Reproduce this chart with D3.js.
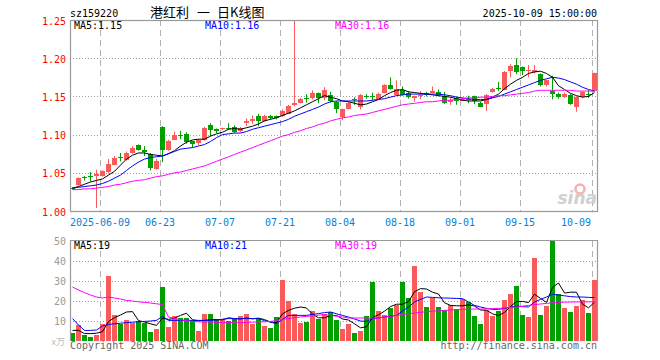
<!DOCTYPE html>
<html><head><meta charset="utf-8">
<script src="https://cdn.jsdelivr.net/npm/d3@7"></script>
<style>body{margin:0;background:#fff;}svg{display:block;}</style>
</head><body><svg id="c" width="660" height="360"></svg>
<script>
const dates = ['2025-05-30',
'2025-06-03','2025-06-04','2025-06-05','2025-06-06',
'2025-06-09','2025-06-10','2025-06-11','2025-06-12','2025-06-13',
'2025-06-16','2025-06-17','2025-06-18','2025-06-19','2025-06-20',
'2025-06-23','2025-06-24','2025-06-25','2025-06-26','2025-06-27','2025-06-30',
'2025-07-01','2025-07-02','2025-07-03','2025-07-04',
'2025-07-07','2025-07-08','2025-07-09','2025-07-10','2025-07-11',
'2025-07-14','2025-07-15','2025-07-16','2025-07-17','2025-07-18',
'2025-07-21','2025-07-22','2025-07-23','2025-07-24','2025-07-25',
'2025-07-28','2025-07-29','2025-07-30','2025-07-31','2025-08-01',
'2025-08-04','2025-08-05','2025-08-06','2025-08-07','2025-08-08',
'2025-08-11','2025-08-12','2025-08-13','2025-08-14','2025-08-15',
'2025-08-18','2025-08-19','2025-08-20','2025-08-21','2025-08-22',
'2025-08-25','2025-08-26','2025-08-27','2025-08-28','2025-08-29',
'2025-09-01','2025-09-02','2025-09-03','2025-09-04','2025-09-05',
'2025-09-08','2025-09-09','2025-09-10','2025-09-11','2025-09-12',
'2025-09-15','2025-09-16','2025-09-17','2025-09-18','2025-09-19',
'2025-09-22','2025-09-23','2025-09-24','2025-09-25','2025-09-26',
'2025-09-29','2025-09-30','2025-10-09'];

const openP = [1.030,1.034,1.044,1.046,1.045,1.046,1.050,1.061,1.071,1.067,
1.076,1.086,1.080,1.074,1.056,1.110,1.080,1.094,1.100,1.101,
1.091,1.089,1.093,1.112,1.107,1.107,1.109,1.110,1.104,1.116,
1.118,1.124,1.118,1.125,1.124,1.124,1.128,1.138,1.142,1.148,
1.147,1.154,1.147,1.152,1.143,1.122,1.134,1.146,1.136,1.151,
1.150,1.147,1.155,1.165,1.152,1.159,1.155,1.147,1.151,1.154,
1.155,1.156,1.151,1.143,1.148,1.145,1.147,1.150,1.142,1.140,
1.156,1.161,1.159,1.183,1.191,1.188,1.184,1.183,1.179,1.164,
1.157,1.153,1.149,1.152,1.136,1.149,1.153,1.157];
const highP = [1.031,1.044,1.046,1.051,1.054,1.053,1.068,1.072,1.076,1.078,
1.085,1.087,1.085,1.076,1.068,1.111,1.093,1.104,1.105,1.103,
1.092,1.094,1.110,1.115,1.108,1.109,1.115,1.112,1.110,1.121,
1.125,1.127,1.126,1.126,1.125,1.133,1.139,1.260,1.148,1.153,
1.158,1.155,1.162,1.156,1.144,1.134,1.143,1.149,1.153,1.153,
1.155,1.155,1.166,1.175,1.171,1.163,1.157,1.151,1.157,1.156,
1.163,1.159,1.156,1.149,1.150,1.148,1.151,1.151,1.143,1.153,
1.161,1.169,1.183,1.192,1.200,1.189,1.191,1.191,1.180,1.172,
1.177,1.155,1.155,1.153,1.150,1.157,1.158,1.181];
const lowP = [1.028,1.033,1.040,1.039,1.004,1.045,1.049,1.060,1.065,1.066,
1.075,1.079,1.072,1.053,1.054,1.064,1.079,1.093,1.094,1.088,
1.083,1.086,1.092,1.098,1.102,1.106,1.106,1.102,1.103,1.111,
1.114,1.111,1.117,1.120,1.120,1.123,1.127,1.137,1.141,1.142,
1.146,1.141,1.145,1.142,1.128,1.119,1.133,1.139,1.133,1.147,
1.145,1.146,1.154,1.159,1.151,1.151,1.147,1.143,1.146,1.150,
1.154,1.150,1.140,1.139,1.139,1.144,1.141,1.140,1.136,1.131,
1.155,1.157,1.158,1.175,1.179,1.178,1.175,1.180,1.163,1.163,
1.146,1.147,1.148,1.139,1.130,1.148,1.148,1.156];
const closeP = [1.029,1.043,1.043,1.045,1.048,1.052,1.061,1.070,1.070,1.076,
1.083,1.080,1.077,1.056,1.066,1.080,1.092,1.100,1.099,1.090,
1.087,1.093,1.109,1.106,1.104,1.108,1.108,1.104,1.108,1.118,
1.120,1.118,1.125,1.122,1.122,1.131,1.138,1.141,1.147,1.147,
1.154,1.147,1.158,1.144,1.134,1.133,1.142,1.145,1.152,1.150,
1.149,1.153,1.165,1.160,1.160,1.153,1.150,1.150,1.152,1.151,
1.157,1.152,1.142,1.145,1.144,1.147,1.146,1.143,1.137,1.152,
1.160,1.160,1.182,1.190,1.182,1.183,1.185,1.185,1.165,1.171,
1.153,1.149,1.153,1.140,1.149,1.156,1.152,1.180];

const ma5 = [1.030,1.032,1.035,1.038,1.040,1.042,1.047,1.052,1.060,1.068,
1.073,1.076,1.076,1.074,1.073,1.072,1.075,1.079,1.085,1.090,
1.093,1.094,1.094,1.098,1.101,1.103,1.107,1.108,1.107,1.109,
1.111,1.114,1.118,1.120,1.122,1.125,1.128,1.131,1.135,1.139,
1.143,1.147,1.151,1.149,1.147,1.144,1.143,1.141,1.139,1.140,
1.143,1.146,1.151,1.155,1.158,1.159,1.156,1.155,1.154,1.153,
1.152,1.151,1.150,1.149,1.147,1.145,1.144,1.144,1.144,1.146,
1.149,1.153,1.160,1.166,1.171,1.175,1.180,1.182,1.183,1.180,
1.175,1.164,1.159,1.154,1.151,1.149,1.150,1.155];
const ma10 = [1.030,1.031,1.032,1.033,1.034,1.036,1.039,1.043,1.047,1.053,
1.059,1.064,1.068,1.070,1.071,1.072,1.075,1.078,1.081,1.082,
1.083,1.085,1.087,1.091,1.096,1.100,1.101,1.102,1.102,1.104,
1.107,1.109,1.111,1.113,1.115,1.117,1.120,1.124,1.127,1.130,
1.133,1.136,1.140,1.143,1.144,1.144,1.144,1.144,1.144,1.144,
1.145,1.146,1.147,1.149,1.151,1.152,1.153,1.153,1.153,1.153,
1.153,1.153,1.152,1.151,1.149,1.148,1.147,1.146,1.146,1.146,
1.148,1.150,1.153,1.156,1.159,1.162,1.165,1.168,1.171,1.173,
1.175,1.174,1.172,1.169,1.166,1.162,1.159,1.157];
const ma30 = [1.028,1.028,1.029,1.029,1.030,1.031,1.032,1.034,1.035,1.037,
1.039,1.040,1.041,1.043,1.045,1.046,1.048,1.050,1.051,1.053,
1.055,1.057,1.059,1.062,1.065,1.068,1.071,1.074,1.077,1.080,
1.083,1.086,1.089,1.092,1.095,1.098,1.100,1.103,1.105,1.108,
1.110,1.113,1.115,1.118,1.120,1.122,1.123,1.125,1.126,1.127,
1.129,1.131,1.133,1.135,1.137,1.139,1.140,1.141,1.142,1.143,
1.143,1.144,1.145,1.145,1.146,1.147,1.148,1.148,1.149,1.149,
1.150,1.151,1.151,1.152,1.153,1.154,1.155,1.157,1.158,1.158,
1.158,1.158,1.158,1.158,1.157,1.157,1.157,1.157];

const volume = [4.0,8.2,2.8,2.0,2.8,8.3,32.5,12.8,8.7,10.3,
9.2,10.0,9.2,4.5,6.2,27.0,7.0,12.5,11.5,11.5,
10.3,5.0,13.3,13.3,11.2,10.3,10.0,11.2,12.5,13.3,
8.3,11.7,7.5,6.5,12.0,30.3,20.0,13.3,9.2,9.5,
14.8,11.2,13.3,14.6,10.3,5.8,8.3,4.0,4.8,12.5,
29.5,14.8,12.8,16.5,18.2,29.5,21.5,37.5,24.5,17.0,
21.5,17.0,15.3,18.2,16.2,21.2,19.5,12.5,8.3,15.3,
12.5,15.0,20.3,23.3,27.5,12.8,12.0,41.5,12.8,17.5,
50.0,23.3,16.5,14.5,17.5,20.3,14.2,30.3];
const vma5 = [5.3,5.3,3.7,3.7,3.9,4.7,9.7,11.7,13.0,14.5,
14.7,10.2,9.5,8.6,7.8,11.4,10.8,11.4,12.8,13.9,
10.6,10.2,10.3,10.7,10.6,10.6,11.6,11.2,11.0,11.5,
11.1,11.4,10.7,9.5,9.2,13.6,15.3,16.4,17.0,16.5,
13.4,11.6,11.6,12.7,12.8,11.0,10.5,8.6,6.6,7.1,
11.8,13.1,14.9,17.2,18.4,18.4,19.7,24.6,26.2,26.0,
24.4,23.5,19.1,17.8,17.6,17.6,18.1,17.5,15.5,15.4,
13.6,12.7,14.3,17.3,19.7,19.8,19.2,23.4,21.3,19.3,
26.8,29.0,24.0,24.4,24.4,18.4,16.6,19.4];
const vma10 = [11.2,8.0,5.3,5.3,5.5,7.5,8.3,8.6,8.9,9.2,
9.4,9.6,9.8,10.0,10.3,12.3,10.3,10.3,10.3,10.3,
10.3,10.3,10.3,10.3,10.6,10.9,11.2,11.2,11.2,11.2,
11.2,11.2,10.2,9.4,8.7,10.8,12.8,12.8,12.8,12.8,
13.3,13.7,14.2,14.5,13.6,12.8,12.0,11.0,10.0,9.8,
11.2,11.6,12.0,12.4,12.8,15.0,17.0,19.5,20.8,22.0,
21.8,21.6,21.5,21.4,21.3,21.2,19.5,17.8,17.0,16.3,
15.8,15.8,16.3,16.9,17.5,17.2,17.0,19.5,20.8,22.0,
23.3,23.0,22.6,22.2,22.0,22.0,21.8,21.7];
const vma30 = [27.0,25.5,24.2,23.0,22.0,21.5,22.0,21.5,21.0,20.3,
20.0,19.6,19.3,19.0,18.6,18.2,12.0,11.2,10.6,10.2,
9.8,9.6,9.5,9.4,9.3,9.2,9.2,9.2,9.2,9.3,
9.4,9.5,9.6,9.8,10.2,10.8,11.2,11.7,12.0,12.3,
12.6,12.9,13.2,12.8,12.4,12.0,11.5,11.5,11.5,11.5,
11.5,11.5,12.0,12.4,12.8,13.2,13.6,14.0,14.3,14.7,
14.9,15.1,15.3,15.5,15.7,15.8,15.9,16.0,16.0,16.1,
16.2,16.3,16.5,16.8,17.0,17.4,17.8,18.2,18.5,18.8,
19.1,19.3,19.4,19.5,19.5,19.6,19.6,19.6];

const priceTicks = [1.00,1.05,1.10,1.15,1.20,1.25];
const volTicks = [10,20,30,40,50];
const tickDates = ['2025-06-09','2025-06-23','2025-07-07','2025-07-21','2025-08-04','2025-08-18','2025-09-01','2025-09-15','2025-10-09'];
const tickLabels = ['2025-06-09','06-23','07-07','07-21','08-04','08-18','09-01','09-15','10-09'];
const maLabelsPrice = ['MA5:1.15','MA10:1.16','MA30:1.16'];
const maLabelsVol = ['MA5:19','MA10:21','MA30:19'];

const RED = '#fa5a5a', GREEN = '#00a000';
const MA_COLORS = ['#000000','#0000ff','#ff00ff'];
const mono = '"DejaVu Sans Mono", monospace';
const svg = d3.select('#c');

const L = 70, R = 597;
const x = d3.scaleLinear().domain([0, dates.length]).range([L, L + dates.length * 6]);
const y = d3.scaleLinear().domain([1.00, 1.25]).range([211, 20]);
const yv = d3.scaleLinear().domain([0, 50]).range([341, 241]);
const idx = d3.range(dates.length);
const cx = i => x(i) + 2.5;

// header
svg.append('text').attr('x', 70).attr('y', 17).attr('font-family', mono).attr('font-size', 10).attr('fill', '#000').text('sz159220');
const cjk = '"Noto Sans CJK SC", sans-serif';
svg.append('text').attr('x', 150).attr('y', 17).attr('font-family', cjk).attr('font-size', 13).attr('fill', '#000').text('港红利');
svg.append('text').attr('x', 197).attr('y', 17).attr('font-family', cjk).attr('font-size', 13).attr('fill', '#000').text('一');
svg.append('text').attr('x', 217).attr('y', 17).attr('font-family', cjk).attr('font-size', 13).attr('fill', '#000').text('日K线图');
svg.append('text').attr('x', R).attr('y', 17).attr('text-anchor', 'end').attr('font-family', mono).attr('font-size', 10).attr('fill', '#000').text('2025-10-09 15:00:00');

// grid: price panel
const gP = svg.append('g');
gP.selectAll('line.h').data(priceTicks.filter(t => t > 1.0 && t < 1.25)).join('line')
  .attr('x1', L).attr('x2', R).attr('y1', d => Math.round(y(d)) + 0.5).attr('y2', d => Math.round(y(d)) + 0.5)
  .attr('stroke', '#a0a0a0').attr('stroke-dasharray', '1,2');
const tickIdx = tickDates.map(d => dates.indexOf(d));
gP.selectAll('line.v').data(tickIdx).join('line')
  .attr('x1', d => x(d) + 0.5).attr('x2', d => x(d) + 0.5).attr('y1', 20).attr('y2', 211)
  .attr('stroke', '#b0b0b0').attr('stroke-dasharray', '6,4');

// grid: volume panel
const gV = svg.append('g');
gV.selectAll('line.h').data(volTicks.filter(t => t < 50)).join('line')
  .attr('x1', L).attr('x2', R).attr('y1', d => Math.round(yv(d)) + 0.5).attr('y2', d => Math.round(yv(d)) + 0.5)
  .attr('stroke', '#a0a0a0').attr('stroke-dasharray', '1,2');
gV.selectAll('line.v').data(tickIdx).join('line')
  .attr('x1', d => x(d) + 0.5).attr('x2', d => x(d) + 0.5).attr('y1', 241).attr('y2', 341)
  .attr('stroke', '#b0b0b0').attr('stroke-dasharray', '6,4');

// watermark
svg.append('text').attr('x', 597).attr('y', 204).attr('text-anchor', 'end').attr('font-family', 'Verdana, "DejaVu Sans", sans-serif')
  .attr('font-size', 17).attr('font-weight', 'bold').attr('font-style', 'italic').attr('fill', '#d0d0d0').text('sina');
svg.append('circle').attr('cx', 580).attr('cy', 189).attr('r', 4.5).attr('fill', 'none').attr('stroke', '#f5b0b0').attr('stroke-width', 2.5);

// clip
svg.append('clipPath').attr('id', 'cp').append('rect').attr('x', L).attr('y', 20).attr('width', R - L).attr('height', 191);
svg.append('clipPath').attr('id', 'cv').append('rect').attr('x', L).attr('y', 241).attr('width', R - L + 1).attr('height', 100);

// candles
const gc = svg.append('g').attr('clip-path', 'url(#cp)');
const col = i => closeP[i] >= openP[i] ? RED : GREEN;
gc.selectAll('line.w').data(idx).join('line')
  .attr('x1', cx).attr('x2', cx).attr('y1', i => y(highP[i])).attr('y2', i => y(lowP[i]))
  .attr('stroke', col).attr('stroke-width', 1);
gc.selectAll('rect.b').data(idx).join('rect')
  .attr('x', i => x(i)).attr('width', 5)
  .attr('y', i => Math.round(y(Math.max(openP[i], closeP[i]))))
  .attr('height', i => Math.max(1, Math.round(Math.abs(y(openP[i]) - y(closeP[i])))))
  .attr('fill', col);

// price MAs
const lineP = d3.line().x((d, i) => cx(i)).y(d => y(d));
[ma5, ma10, ma30].forEach((arr, k) => {
  gc.append('path').attr('d', lineP(arr)).attr('fill', 'none').attr('stroke', MA_COLORS[k]).attr('stroke-width', 1);
});

// volume bars
const gv = svg.append('g').attr('clip-path', 'url(#cv)');
gv.selectAll('rect.v').data(idx).join('rect')
  .attr('x', i => x(i)).attr('width', 5)
  .attr('y', i => Math.round(yv(volume[i]))).attr('height', i => 341 - Math.round(yv(volume[i])))
  .attr('fill', col);
const lineV = d3.line().x((d, i) => cx(i)).y(d => yv(d));
[vma5, vma10, vma30].forEach((arr, k) => {
  gv.append('path').attr('d', lineV(arr)).attr('fill', 'none').attr('stroke', MA_COLORS[k]).attr('stroke-width', 1);
});

// frames
svg.append('rect').attr('x', L + 0.5).attr('y', 20.5).attr('width', R - L).attr('height', 191)
  .attr('fill', 'none').attr('stroke', '#999').attr('stroke-width', 1.2);
svg.append('path').attr('d', `M${L + 0.5},341V240.5H${R + 0.5}V341`).attr('fill', 'none').attr('stroke', '#999').attr('stroke-width', 1.2);

// price axis labels
svg.selectAll('text.py').data(priceTicks).join('text')
  .attr('x', 66).attr('y', d => y(d) + 1.5).attr('text-anchor', 'end').attr('dominant-baseline', 'middle')
  .attr('font-family', mono).attr('font-size', 10).attr('fill', '#ff0000').text(d => d.toFixed(2));

// volume axis labels
svg.selectAll('text.vy').data(volTicks).join('text')
  .attr('x', 66).attr('y', d => yv(d) + 1).attr('text-anchor', 'end').attr('dominant-baseline', 'middle')
  .attr('font-family', mono).attr('font-size', 10).attr('fill', '#999').text(d => d);
svg.append('text').attr('x', 65).attr('y', 345).attr('text-anchor', 'end').attr('font-family', '"Noto Sans CJK SC", sans-serif')
  .attr('font-size', 9).attr('fill', '#bbb').text('x万');

// date labels
svg.selectAll('text.dx').data(tickIdx).join('text')
  .attr('x', (d, k) => k === tickIdx.length - 1 ? 591 : x(d))
  .attr('text-anchor', (d, k) => k === tickIdx.length - 1 ? 'end' : 'middle')
  .attr('y', 226).attr('font-family', mono).attr('font-size', 10).attr('fill', '#0a7fd2')
  .text((d, k) => tickLabels[k]);

// MA legends
const legX = [74, 205, 335];
maLabelsPrice.forEach((t, k) => svg.append('text').attr('x', legX[k]).attr('y', 29).attr('font-family', mono).attr('font-size', 10).attr('fill', MA_COLORS[k]).text(t));
maLabelsVol.forEach((t, k) => svg.append('text').attr('x', legX[k]).attr('y', 249).attr('font-family', mono).attr('font-size', 10).attr('fill', MA_COLORS[k]).text(t));

// footer
svg.append('text').attr('x', 70).attr('y', 349).attr('font-family', mono).attr('font-size', 10).attr('fill', '#666').text('Copyright 2025 SINA.COM');
svg.append('text').attr('x', R).attr('y', 349).attr('text-anchor', 'end').attr('font-family', mono).attr('font-size', 10).attr('fill', '#666').text('http://finance.sina.com.cn');
</script></body></html>
